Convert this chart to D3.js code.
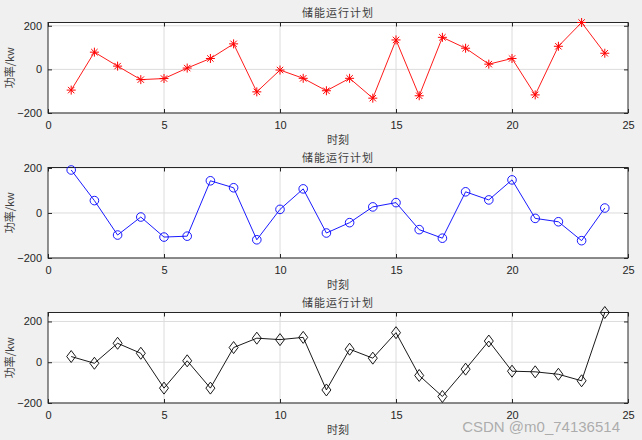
<!DOCTYPE html>
<html lang="zh">
<head>
<meta charset="UTF-8">
<title>储能运行计划</title>
<style>
  body { margin: 0; background: #f0f0f0; }
  #chart { display: block; }
  .tick text { font-family: 'Liberation Sans', Arial, sans-serif; font-size: 11px; fill: #262626; }
  .cn { font-family: 'Noto Sans CJK SC', sans-serif; fill: #404040; }
</style>
<script src="https://d3js.org/d3.v7.min.js"></script>
</head>
<body>
<svg id="chart" width="642" height="440"></svg>
<script>
// hours 1..24
const hours = [1,2,3,4,5,6,7,8,9,10,11,12,13,14,15,16,17,18,19,20,21,22,23,24];
const power1 = [-95,79,15,-47,-42,6,50,117,-103,-3,-41,-98,-41,-132,135,-121,147,97,24,50,-117,106,215,74];
const power2 = [191,55,-98,-18,-107,-103,143,112,-119,16,107,-89,-43,27,46,-74,-112,94,58,147,-24,-39,-123,22];
const power3 = [28,-5,93,44,-127,7,-127,72,118,111,122,-136,64,20,145,-65,-168,-34,104,-44,-47,-59,-91,244];
const xTicks = [0,5,10,15,20,25];
const yTicks = [-200,0,200];

const panels = [
  { data: power1, color: "#ff0000", marker: "star",    top: 22.5,  ymax: 215 },
  { data: power2, color: "#0000ff", marker: "circle",  top: 167.5, ymax: 202 },
  { data: power3, color: "#000000", marker: "diamond", top: 312.5, ymax: 244 }
];

const svg = d3.select("#chart");
const left = 48, right = 628, h = 90.5;
const x = d3.scaleLinear().domain([0, 25]).range([left, right]);

panels.forEach(p => {
  const y = d3.scaleLinear().domain([-200, p.ymax]).range([p.top + h, p.top]);
  const g = svg.append("g");

  g.append("rect").attr("x", left).attr("y", p.top)
    .attr("width", right - left).attr("height", h).attr("fill", "#fff");

  // grid
  g.selectAll(".gx").data(xTicks.slice(1, -1)).enter().append("line")
    .attr("x1", d => x(d)).attr("x2", d => x(d))
    .attr("y1", p.top).attr("y2", p.top + h)
    .attr("stroke", "#dcdcdc").attr("stroke-width", 1);
  g.selectAll(".gy").data(yTicks).enter().append("line")
    .attr("x1", left).attr("x2", right)
    .attr("y1", d => y(d)).attr("y2", d => y(d))
    .attr("stroke", "#dcdcdc").attr("stroke-width", 1);

  // axes (ticks inside, box on)
  g.append("g").attr("transform", `translate(0,${p.top + h})`)
    .call(d3.axisBottom(x).tickValues(xTicks).tickSizeInner(-4).tickSizeOuter(0).tickPadding(8))
    .call(a => a.select(".domain").remove());
  g.append("g").attr("transform", `translate(0,${p.top})`)
    .call(d3.axisTop(x).tickValues(xTicks).tickSizeInner(-4).tickSizeOuter(0).tickFormat(""))
    .call(a => a.select(".domain").remove());
  g.append("g").attr("transform", `translate(${left},0)`)
    .call(d3.axisLeft(y).tickValues(yTicks).tickSizeInner(-4).tickSizeOuter(0).tickPadding(6))
    .call(a => a.select(".domain").remove());
  g.append("g").attr("transform", `translate(${right},0)`)
    .call(d3.axisRight(y).tickValues(yTicks).tickSizeInner(-4).tickSizeOuter(0).tickFormat(""))
    .call(a => a.select(".domain").remove());
  g.selectAll(".tick line").attr("stroke", "#262626");

  g.append("rect").attr("x", left).attr("y", p.top)
    .attr("width", right - left).attr("height", h)
    .attr("fill", "none").attr("stroke", "#262626").attr("stroke-width", 1);

  // line
  const line = d3.line().x((d, i) => x(hours[i])).y(d => y(d));
  g.append("path").datum(p.data).attr("d", line)
    .attr("fill", "none").attr("stroke", p.color).attr("stroke-width", 0.9);

  // markers
  const m = g.selectAll(".m").data(p.data).enter().append("g")
    .attr("transform", (d, i) => `translate(${x(hours[i])},${y(d)})`);
  if (p.marker === "star") {
    m.append("path").attr("d", "M-4.5,0H4.5M0,-4.5V4.5M-3.2,-3.2L3.2,3.2M-3.2,3.2L3.2,-3.2")
      .attr("stroke", p.color).attr("stroke-width", 1);
  } else if (p.marker === "circle") {
    m.append("circle").attr("r", 4.3).attr("fill", "none")
      .attr("stroke", p.color).attr("stroke-width", 0.9);
  } else {
    m.append("path").attr("d", "M0,-6L4.5,0L0,6L-4.5,0Z").attr("fill", "none")
      .attr("stroke", p.color).attr("stroke-width", 0.9);
  }

  // labels
  svg.append("text").attr("class", "cn").attr("x", (left + right) / 2).attr("y", p.top - 6)
    .attr("text-anchor", "middle").attr("font-size", 11).attr("letter-spacing", 1)
    .text("储能运行计划");
  svg.append("text").attr("class", "cn").attr("x", (left + right) / 2).attr("y", p.top + h + 31)
    .attr("text-anchor", "middle").attr("font-size", 11)
    .text("时刻");
  svg.append("text").attr("class", "cn")
    .attr("transform", `translate(14,${p.top + h / 2}) rotate(-90)`)
    .attr("text-anchor", "middle").attr("font-size", 11)
    .text("功率/kw");
});

// watermark
svg.append("text").attr("x", 620).attr("y", 432).attr("text-anchor", "end")
  .attr("font-family", "'Liberation Sans', Arial, sans-serif").attr("font-size", 15)
  .attr("fill", "#9a9a9a").attr("fill-opacity", 0.8)
  .text("CSDN @m0_74136514");
</script>
</body>
</html>
